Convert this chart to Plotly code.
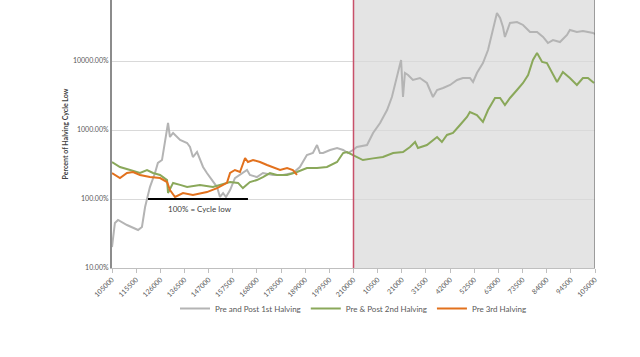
import plotly.graph_objects as go

tick_labels = ["105000", "115500", "126000", "136500", "147000", "157500", "168000",
               "178500", "189000", "199500", "210000", "10500", "21000", "31500",
               "42000", "52500", "63000", "73500", "84000", "94500", "105000"]
tick_pos = list(range(len(tick_labels)))

gray_x = [0, 0.12, 0.25, 0.62, 1.08, 1.24, 1.37, 1.57, 1.78, 1.90, 2.07, 2.19, 2.32, 2.40, 2.53,
          2.82, 3.11, 3.23, 3.35, 3.52, 3.64, 3.77, 3.93, 4.14, 4.35, 4.47, 4.60, 4.72, 4.89, 5.09,
          5.59, 5.71, 6.00, 6.25, 6.67, 7.08, 7.49, 7.78, 8.07, 8.32, 8.49, 8.61, 8.74, 9.03,
          9.32, 9.57, 9.77, 9.98, 10.14, 10.56, 10.81, 11.10, 11.39, 11.59, 11.80, 11.97, 12.05,
          12.13, 12.26, 12.46, 12.75, 13.04, 13.29, 13.46, 13.71, 14.00, 14.29, 14.53, 14.82,
          14.95, 15.11, 15.36, 15.57, 15.73, 15.94, 16.07, 16.19, 16.27, 16.48, 16.77, 17.02,
          17.31, 17.60, 17.85, 18.05, 18.26, 18.55, 18.84, 18.96, 19.25, 19.50, 19.92, 20]
gray_y = [20.1, 44.9, 49.7, 42.0, 35.5, 39.3, 76.6, 149, 238, 333, 367, 716, 1263, 792, 905,
          716, 648, 567, 406, 480, 367, 291, 238, 188, 149, 107, 122, 107, 135, 201,
          263, 223, 208, 238, 223, 223, 238, 291, 434, 464, 606, 464, 464, 513,
          548, 513, 464, 513, 567, 606, 905, 1263, 1950, 3007, 5867, 10330, 3007,
          6700, 6270, 5309, 5674, 4800, 3007, 3800, 4060, 4490, 5309, 5674, 5674,
          4963, 6700, 9350, 14430, 25460, 49650, 41990, 31100, 22290, 35560, 36730, 33270,
          26300, 26300, 22290, 18240, 20140, 18840, 23820, 28120, 26300, 27220, 25460, 24600]

green_x = [0, 0.33, 0.75, 1.16, 1.45, 1.70, 1.99, 2.28, 2.32, 2.53, 2.82, 3.11, 3.64, 4.18, 4.47,
           4.89, 5.22, 5.42, 5.71, 6.00, 6.25, 6.54, 6.83, 7.25, 7.66, 8.07, 8.49, 8.90, 9.32,
           9.57, 9.73, 9.98, 10.14, 10.39, 10.81, 11.22, 11.64, 12.05, 12.34, 12.55, 12.67,
           13.04, 13.46, 13.66, 13.87, 14.12, 14.41, 14.70, 14.82, 15.11, 15.36, 15.57, 15.86,
           16.07, 16.27, 16.48, 16.77, 17.02, 17.23, 17.43, 17.60, 17.81, 18.01, 18.22, 18.43,
           18.67, 18.96, 19.25, 19.50, 19.71, 19.96]
green_y = [344, 291, 263, 238, 263, 238, 223, 188, 122, 171, 160, 149, 160, 149, 160,
           176, 171, 144, 176, 188, 208, 238, 223, 223, 246, 281, 281, 291, 344,
           464, 480, 434, 406, 367, 388, 406, 464, 480, 567, 670, 548,
           606, 792, 670, 847, 905, 1181, 1543, 1824, 1649, 1306, 1950, 2910,
           2910, 2303, 2910, 3800, 4800, 6270, 10330, 13060, 9680, 9350, 6930, 4963,
           6930, 5674, 4490, 5674, 5674, 4800]

orange_x = [0, 0.33, 0.62, 0.87, 1.16, 1.57, 1.99, 2.28, 2.40, 2.61, 2.94, 3.35, 3.93, 4.35,
            4.76, 4.89, 5.09, 5.30, 5.51, 5.63, 5.84, 6.13, 6.42, 6.67, 6.96, 7.25, 7.49, 7.66]
orange_y = [238, 201, 238, 246, 223, 208, 201, 176, 135, 107, 122, 114, 126, 144,
            171, 238, 263, 246, 393, 344, 367, 344, 311, 291, 263, 281, 263, 223]

cycle_low_x = [1.49, 5.63]
cycle_low_y = [100, 100]
halving_x = 10

FONT = "Lato, Open Sans, sans-serif"
TXT = "#595959"

fig = go.Figure()
fig.add_trace(go.Scatter(x=gray_x, y=gray_y, mode="lines", name="Pre and Post 1st Halving",
                         line=dict(color="#b4b4b4", width=2)))
fig.add_trace(go.Scatter(x=green_x, y=green_y, mode="lines", name="Pre & Post 2nd Halving",
                         line=dict(color="#8aa85a", width=2)))
fig.add_trace(go.Scatter(x=orange_x, y=orange_y, mode="lines", name="Pre 3rd Halving",
                         line=dict(color="#e2711d", width=2)))
fig.add_trace(go.Scatter(x=cycle_low_x, y=cycle_low_y, mode="lines", showlegend=False,
                         line=dict(color="#000000", width=2), hoverinfo="skip"))

fig.add_shape(type="rect", xref="x", yref="paper", x0=halving_x, x1=tick_pos[-1], y0=0, y1=1,
              fillcolor="#e4e4e4", line=dict(width=0), layer="below")
fig.add_shape(type="line", xref="x", yref="paper", x0=halving_x, x1=halving_x, y0=0, y1=1,
              line=dict(color="#c8506a", width=1.5), layer="above")
fig.add_shape(type="line", xref="x", yref="paper", x0=tick_pos[-1], x1=tick_pos[-1], y0=0, y1=1,
              line=dict(color="#555555", width=1), layer="above")

fig.add_annotation(x=3.64, y=2, xref="x", yref="y", text="100% = Cycle low", showarrow=False,
                   yshift=-10, font=dict(family=FONT, size=8, color="#404040"))

fig.update_layout(
    width=640, height=357,
    margin=dict(l=112, r=45, t=0, b=89),
    paper_bgcolor="white", plot_bgcolor="white",
    font=dict(family=FONT, size=7, color=TXT),
    showlegend=True,
    legend=dict(orientation="h", x=0.5, xanchor="center", y=-0.097, yanchor="top",
                font=dict(family=FONT, size=8, color=TXT), itemwidth=30,
                bgcolor="rgba(0,0,0,0)"),
)
fig.update_xaxes(range=[0, 20], tickvals=tick_pos, ticktext=tick_labels, tickangle=-45,
                 showgrid=False, zeroline=False, showline=True, linecolor="#bfbfbf", linewidth=1,
                 ticks="outside", ticklen=4, tickcolor="#bfbfbf",
                 tickfont=dict(family=FONT, size=7, color=TXT))
fig.update_yaxes(type="log", range=[1, 4.884], tickvals=[10, 100, 1000, 10000],
                 ticktext=["10.00%", "100.00%", "1000.00%", "10000.00%"],
                 showgrid=True, gridcolor="#d9d9d9", gridwidth=1, zeroline=False,
                 showline=True, linecolor="#8c8c8c", linewidth=2, ticks="",
                 tickfont=dict(family=FONT, size=7, color=TXT),
                 title=dict(text="<b>Percent of Halving Cycle Low</b>", standoff=3,
                            font=dict(family=FONT, size=7, color="#404040")))

fig.write_html("out.html", config={"displayModeBar": False},
               post_script="document.body.style.margin='0';")
